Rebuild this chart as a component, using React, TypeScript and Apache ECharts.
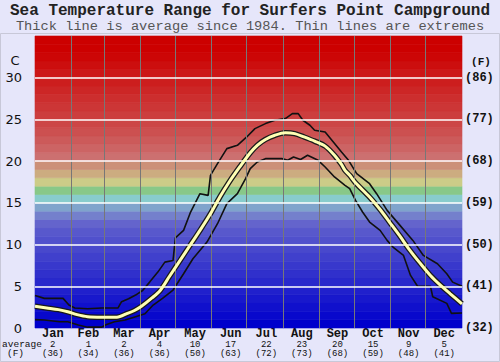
import React, { useEffect, useRef } from "react";
import * as echarts from "echarts";

const titleText = "Sea Temperature Range for Surfers Point Campground";
const subtitleText = "Thick line is average since 1984. Thin lines are extremes";

const monthNames = ["Jan", "Feb", "Mar", "Apr", "May", "Jun", "Jul", "Aug", "Sep", "Oct", "Nov", "Dec"];
const monthAvgC = ["2", "1", "2", "4", "10", "17", "22", "23", "20", "15", "9", "5"];
const monthAvgF = ["(36)", "(34)", "(36)", "(36)", "(50)", "(63)", "(72)", "(73)", "(68)", "(59)", "(48)", "(41)"];
const monthEnds = [31, 59, 90, 120, 151, 181, 212, 243, 273, 304, 334];
const gridTemps = [5, 10, 15, 20, 25, 30];
const fTickLabels: Record<number, string> = { 0: "(32)", 5: "(41)", 10: "(50)", 15: "(59)", 20: "(68)", 25: "(77)", 30: "(86)" };

// one colour per 1°C band, from 0-1 upward to 34-35
const bandColors = [
  "#0000cc", "#0808cc", "#1010cc", "#1818cc", "#2020cc", "#2828cc", "#3030cc", "#3838cc",
  "#4040cc", "#4848cc", "#5050cc", "#5858cc", "#6464cc", "#7480cc", "#80a4cc", "#88cccc",
  "#88c888", "#cccc88", "#ccac80", "#cc9078", "#cc7070", "#cc6464", "#cc5a5a", "#cc5050",
  "#cc4646", "#cc3e3e", "#cc3636", "#cc2e2e", "#cc2626", "#cc1e1e", "#cc1616", "#cc0e0e",
  "#cc0606", "#cc0000", "#cc0000",
];

const avgDays = [0, 10, 20, 28, 36, 45, 57, 70, 79, 85, 91, 100, 107, 115, 124, 132, 141, 150, 158, 166, 175, 184, 190, 197, 205, 214, 222, 230, 239, 248, 256, 262, 265, 269, 274, 286, 295, 303, 312, 320, 329, 338, 346, 355, 365];
const avgTemps = [2.6, 2.4, 2.2, 1.95, 1.6, 1.35, 1.3, 1.3, 1.75, 2.1, 2.6, 3.6, 4.5, 6.2, 8.1, 9.8, 11.7, 13.7, 15.7, 17.5, 19.3, 21.0, 21.9, 22.6, 23.1, 23.4, 23.3, 22.9, 22.4, 21.8, 20.7, 19.6, 18.9, 18.3, 17.4, 15.7, 14.2, 12.7, 11.0, 9.4, 7.8, 6.3, 5.2, 4.1, 2.9];

const maxDays = [0, 8, 24, 29, 34, 45, 57, 71, 74, 80, 86, 92, 98, 105, 111, 118, 120, 127, 133, 141, 148, 150, 156, 164, 173, 181, 188, 197, 205, 214, 220, 225, 229, 235, 239, 248, 255, 262, 268, 275, 286, 292, 301, 312, 323, 332, 344, 352, 357, 365];
const maxTemps = [3.9, 3.55, 3.55, 2.75, 2.4, 2.3, 2.4, 2.4, 3.15, 3.5, 3.95, 4.5, 5.5, 6.7, 7.9, 8.1, 10.8, 11.7, 13.9, 16.1, 15.9, 18.3, 19.7, 21.5, 21.9, 22.9, 23.9, 24.5, 24.9, 25.1, 25.7, 25.7, 24.9, 24.3, 23.7, 23.5, 22.3, 21.1, 20.1, 18.5, 17.3, 16.1, 14.1, 12.3, 10.5, 8.7, 7.7, 6.5, 5.5, 5.0];

const minDays = [0, 8, 21, 28, 37, 45, 57, 60, 68, 77, 86, 94, 101, 109, 118, 127, 135, 147, 156, 164, 173, 180, 184, 190, 197, 211, 216, 221, 227, 233, 242, 248, 256, 265, 269, 274, 280, 286, 295, 301, 306, 315, 321, 327, 338, 340, 352, 356, 365];
const minTemps = [1.0, 0.95, 0.75, 0.75, 0.35, 0.1, 0.1, 0.35, 0.75, 0.95, 1.35, 1.7, 2.75, 3.55, 4.55, 6.5, 8.3, 10.3, 12.5, 14.9, 16.1, 17.9, 19.1, 19.9, 20.3, 20.3, 20.1, 20.5, 20.2, 20.7, 20.1, 19.3, 18.1, 17.1, 16.7, 15.3, 13.9, 12.7, 11.7, 10.5, 9.7, 8.7, 6.3, 5.0, 5.0, 3.75, 2.95, 1.75, 1.8];

const pairs = (xs: number[], ys: number[]) => xs.map((x, i) => [x, ys[i]]);

const MONO = "'Liberation Mono', 'Courier New', monospace";
const SANS = "'DejaVu Sans', Verdana, sans-serif";

export default function App() {
  const ref = useRef<HTMLDivElement>(null);
  useEffect(() => {
    if (!ref.current) return;
    const chart = echarts.init(ref.current, null, { renderer: "svg" });
    chart.setOption({
      animation: false,
      backgroundColor: "#e6e6fa",
      title: [
        {
          text: titleText, left: "center", top: 3, padding: 0,
          textStyle: { fontFamily: MONO, fontSize: 16, fontWeight: "bold", color: "#222" },
        },
        {
          text: subtitleText, left: "center", top: 19, padding: 0,
          textStyle: { fontFamily: MONO, fontSize: 13.7, fontWeight: "normal", color: "#555" },
        },
      ],
      grid: { left: 35, top: 36, width: 427, height: 292, containLabel: false },
      xAxis: [
        { type: "value", min: 0, max: 365, show: false },
        {
          type: "category", data: monthNames, position: "bottom", boundaryGap: true,
          axisLine: { show: false }, axisTick: { show: false }, splitLine: { show: false },
          axisLabel: {
            interval: 0, margin: 0,
            formatter: (v: string, i: number) => `{m|${v}}\n{v|${monthAvgC[i]}}\n{v|${monthAvgF[i]}}`,
            rich: {
              m: { fontFamily: MONO, fontSize: 12, fontWeight: "bold", color: "#111", lineHeight: 12 },
              v: { fontFamily: MONO, fontSize: 9, color: "#111", lineHeight: 9 },
            },
          },
        },
      ],
      yAxis: [
        {
          type: "value", min: 0, max: 35, interval: 5, position: "left",
          axisLine: { show: false }, axisTick: { show: false }, splitLine: { show: false },
          axisLabel: {
            margin: 13, fontFamily: SANS, fontSize: 13, color: "#111",
            formatter: (v: number) => (v > 30 ? "" : String(v)),
          },
        },
        {
          type: "value", min: 0, max: 35, interval: 5, position: "right",
          axisLine: { show: false }, axisTick: { show: false }, splitLine: { show: false },
          axisLabel: {
            margin: 3, fontFamily: MONO, fontSize: 12, fontWeight: "bold", color: "#111",
            formatter: (v: number) => fTickLabels[v] ?? "",
          },
        },
      ],
      graphic: [
        { type: "rect", shape: { x: 0.5, y: 33.5, width: 499, height: 328 }, style: { fill: "none", stroke: "#c8c8d8", lineWidth: 1 }, silent: true },
        { type: "text", x: 15, y: 60, style: { text: "C", font: `13px ${SANS}`, fill: "#111", align: "center", verticalAlign: "middle" } },
        { type: "text", x: 481, y: 62, style: { text: "(F)", font: `bold 11px ${MONO}`, fill: "#111", align: "center", verticalAlign: "middle" } },
        { type: "text", x: 22, y: 344, style: { text: "average", font: `9.5px ${MONO}`, fill: "#111", align: "center", verticalAlign: "middle" } },
        { type: "text", x: 15.5, y: 353.5, style: { text: "(F)", font: `9.5px ${MONO}`, fill: "#111", align: "center", verticalAlign: "middle" } },
      ],
      series: [
        {
          type: "line", data: [], z: 1, silent: true,
          markArea: {
            silent: true, label: { show: false },
            data: bandColors.map((c, i) => [
              { yAxis: i, itemStyle: { color: c, borderColor: c, borderWidth: 0.6 } },
              { yAxis: i + 1 },
            ]),
          },
        },
        {
          type: "line", data: [], z: 2, silent: true,
          markLine: {
            silent: true, symbol: ["none", "none"], label: { show: false },
            data: [
              ...monthEnds.map((d) => ({ xAxis: d, lineStyle: { color: "#777", width: 1, type: "solid" } })),
              ...gridTemps.map((t) => ({ yAxis: t, lineStyle: { color: "#ffffff", width: 1.6, type: "solid" } })),
            ],
          },
        },
        {
          type: "line", data: pairs(maxDays, maxTemps), symbol: "none", z: 3,
          lineStyle: { color: "#111", width: 1.6 },
        },
        {
          type: "line", data: pairs(minDays, minTemps), symbol: "none", z: 3,
          lineStyle: { color: "#111", width: 1.6 },
        },
        {
          type: "line", data: pairs(avgDays, avgTemps), smooth: 0.3, symbol: "none", z: 4,
          lineStyle: { color: "#1a1a1a", width: 5.5 },
        },
        {
          type: "line", data: pairs(avgDays, avgTemps), smooth: 0.3, symbol: "none", z: 5,
          lineStyle: { color: "#ffffb4", width: 3 },
        },
      ],
    });
    return () => chart.dispose();
  }, []);
  return <div ref={ref} style={{ position: "fixed", left: 0, top: 0, width: 500, height: 362 }} />;
}
